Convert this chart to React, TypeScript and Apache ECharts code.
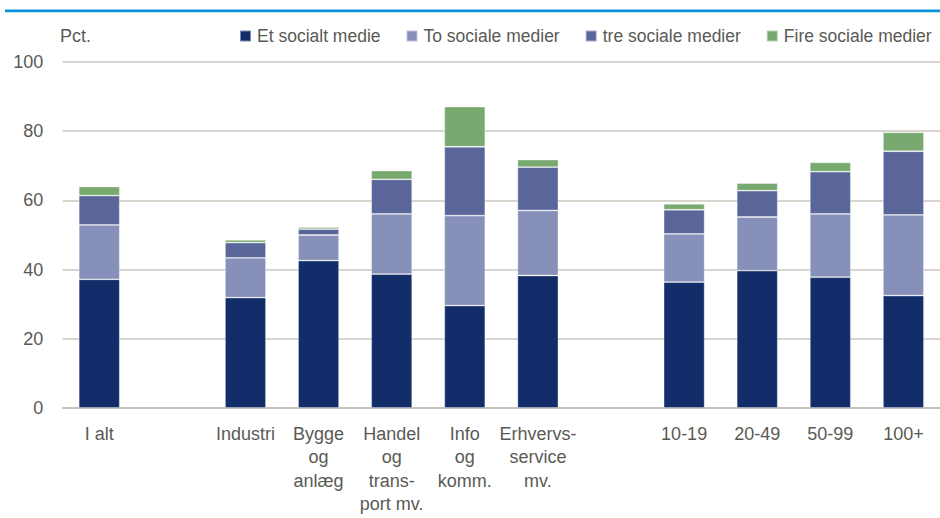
import React, { useEffect, useRef } from "react";
import * as echarts from "echarts";

const categories = [
  "I alt",
  "",
  "Industri",
  "Bygge\nog\nanlæg",
  "Handel\nog\ntrans-\nport mv.",
  "Info\nog\nkomm.",
  "Erhvervs-\nservice\nmv.",
  "",
  "10-19",
  "20-49",
  "50-99",
  "100+",
];

const seriesNames = ["Et socialt medie", "To sociale medier", "tre sociale medier", "Fire sociale medier"];

const etSocialtMedie = [37.2, null, 31.9, 42.6, 38.7, 29.6, 38.3, null, 36.4, 39.7, 37.8, 32.5];
const toSocialeMedier = [15.7, null, 11.5, 7.4, 17.4, 26.0, 18.8, null, 13.9, 15.5, 18.3, 23.3];
const treSocialeMedier = [8.5, null, 4.4, 1.7, 10.0, 19.9, 12.5, null, 7.0, 7.6, 12.2, 18.4];
const fireSocialeMedier = [2.6, null, 0.8, 0.6, 2.5, 11.6, 2.2, null, 1.7, 2.2, 2.7, 5.5];

const yTicks = { min: 0, max: 100, interval: 20 };

const colors = ["#122d69", "#8790b8", "#5a6699", "#78aa6f"];
const FONT = "'Liberation Sans Narrow', 'Arial Narrow', 'Liberation Sans', Arial, sans-serif";
const TEXT = "#5a5a55";

export default function App() {
  const ref = useRef<HTMLDivElement>(null);
  useEffect(() => {
    if (!ref.current) return;
    const chart = echarts.init(ref.current, undefined, { renderer: "svg" });
    const data = [etSocialtMedie, toSocialeMedier, treSocialeMedier, fireSocialeMedier];
    chart.setOption({
      animation: false,
      backgroundColor: "#ffffff",
      textStyle: { fontFamily: FONT },
      graphic: [
        {
          type: "rect",
          shape: { x: 5, y: 9.5, width: 940, height: 2.7 },
          style: { fill: "#0a94dc" },
        },
        {
          type: "text",
          x: 60,
          y: 36,
          style: {
            text: "Pct.",
            fontFamily: FONT,
            fontSize: 18,
            fill: TEXT,
            verticalAlign: "middle",
          },
        },
      ],
      legend: {
        data: seriesNames,
        left: 239,
        top: 25.5,
        width: 700,
        padding: 0,
        itemWidth: 11,
        itemHeight: 11,
        itemGap: 25,
        icon: "rect",
        textStyle: {
          fontFamily: FONT,
          fontSize: 17.5,
          lineHeight: 21,
          color: TEXT,
          padding: [0, 0, 0, 1],
        },
      },
      grid: { left: 62.7, right: -6.7, top: 62, bottom: 110, containLabel: false },
      xAxis: {
        type: "category",
        data: categories,
        axisTick: { show: false },
        axisLine: { lineStyle: { color: "#bdbdb3", width: 1.5 } },
        axisLabel: {
          interval: 0,
          margin: 14,
          fontFamily: FONT,
          fontSize: 18,
          lineHeight: 23.5,
          color: TEXT,
        },
      },
      yAxis: {
        type: "value",
        min: yTicks.min,
        max: yTicks.max,
        interval: yTicks.interval,
        axisLine: { show: false },
        axisTick: { show: false },
        splitLine: { lineStyle: { color: "#c9c9bf", width: 1.5 } },
        axisLabel: { margin: 19.5, fontFamily: FONT, fontSize: 18, color: TEXT },
      },
      series: seriesNames.map((name, i) => ({
        name,
        type: "bar",
        stack: "total",
        barWidth: 41,
        data: data[i].map((v) => (v === null ? "-" : v)),
        itemStyle: {
          color: colors[i],
          borderColor: "rgba(255,255,255,0.45)",
          borderWidth: 0.8,
        },
      })),
    });
    return () => chart.dispose();
  }, []);
  return (
    <div
      ref={ref}
      style={{ position: "fixed", left: 0, top: 0, width: 940, height: 518 }}
    />
  );
}
